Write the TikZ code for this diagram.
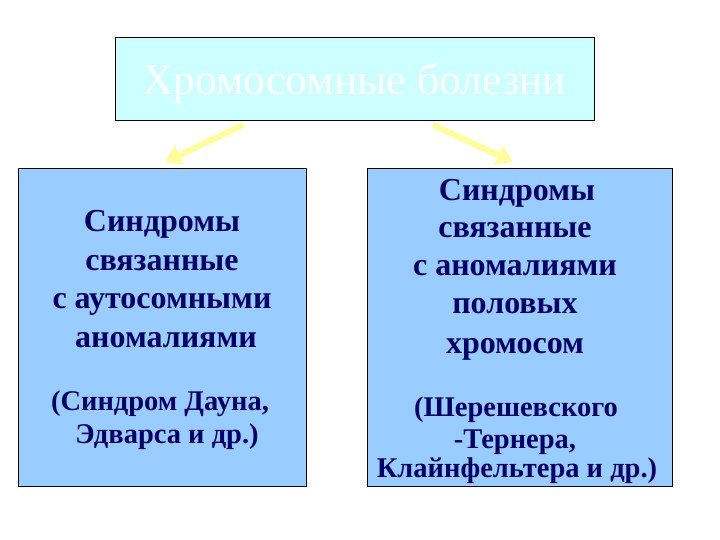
\documentclass[tikz,border=0pt]{standalone}
\usepackage{fontspec}
\setmainfont{Liberation Serif}
\usetikzlibrary{arrows.meta}
\definecolor{topfill}{HTML}{CCFFFF}
\definecolor{boxfill}{HTML}{99CCFF}
\definecolor{navy}{HTML}{000066}
\definecolor{arrowyellow}{HTML}{FFFF99}
\tikzset{
  panel/.style={draw=black, line width=0.8pt},
  ln/.style={anchor=base, font=\fontsize{32}{38}\selectfont\bfseries, text=navy, inner sep=0pt},
  lns/.style={anchor=base, font=\fontsize{28.5}{33}\selectfont\bfseries, text=navy, inner sep=0pt},
  yarrow/.style={draw=arrowyellow, line width=6pt, -{Triangle[length=16pt,width=20pt]}}
}
\begin{document}
\begin{tikzpicture}[x=1pt,y=-1pt]
\useasboundingbox (0,0) rectangle (720,540);
\fill[white] (0,0) rectangle (720,540);
\node[panel, fill=topfill, minimum width=479pt, minimum height=83pt, inner sep=0pt] (top) at (354.5,78.5) {};
\node[anchor=base, text=white, font=\fontsize{43.5}{48}\selectfont, inner sep=0pt] (title) at (354,95) {Хромосомные болезни};
\node[panel, fill=boxfill, minimum width=288pt, minimum height=318pt, inner sep=0pt] (left) at (162,327) {};
\node[panel, fill=boxfill, minimum width=305pt, minimum height=318pt, inner sep=0pt] (right) at (519.5,327) {};
\coordinate (la) at (243,125);
\coordinate (lb) at (165,162);
\coordinate (ra) at (433,125);
\coordinate (rb) at (513,162);
\draw[yarrow] (la) -- (lb);
\draw[yarrow] (ra) -- (rb);
\node[ln] (l1) at (162,232) {Синдромы};
\node[ln] (l2) at (162,270) {связанные};
\node[ln] (l3) at (162,308) {с аутосомными};
\node[ln] (l4) at (166,347) {аномалиями};
\node[lns] (l5) at (160,410) {(Синдром Дауна,};
\node[lns] (l6) at (167,443) {Эдварса и др.)};
\node[ln] (r1) at (517,201) {Синдромы};
\node[ln] (r2) at (515,237) {связанные};
\node[ln] (r3) at (515,275) {с аномалиями};
\node[ln] (r4) at (515,313) {половых};
\node[ln] (r5) at (515,353) {хромосом};
\node[lns] (r6) at (516,416) {(Шерешевского};
\node[lns] (r7) at (515,448) {-Тернера,};
\node[lns] (r8) at (517,477) {Клайнфельтера и др.)};
\end{tikzpicture}
\end{document}
